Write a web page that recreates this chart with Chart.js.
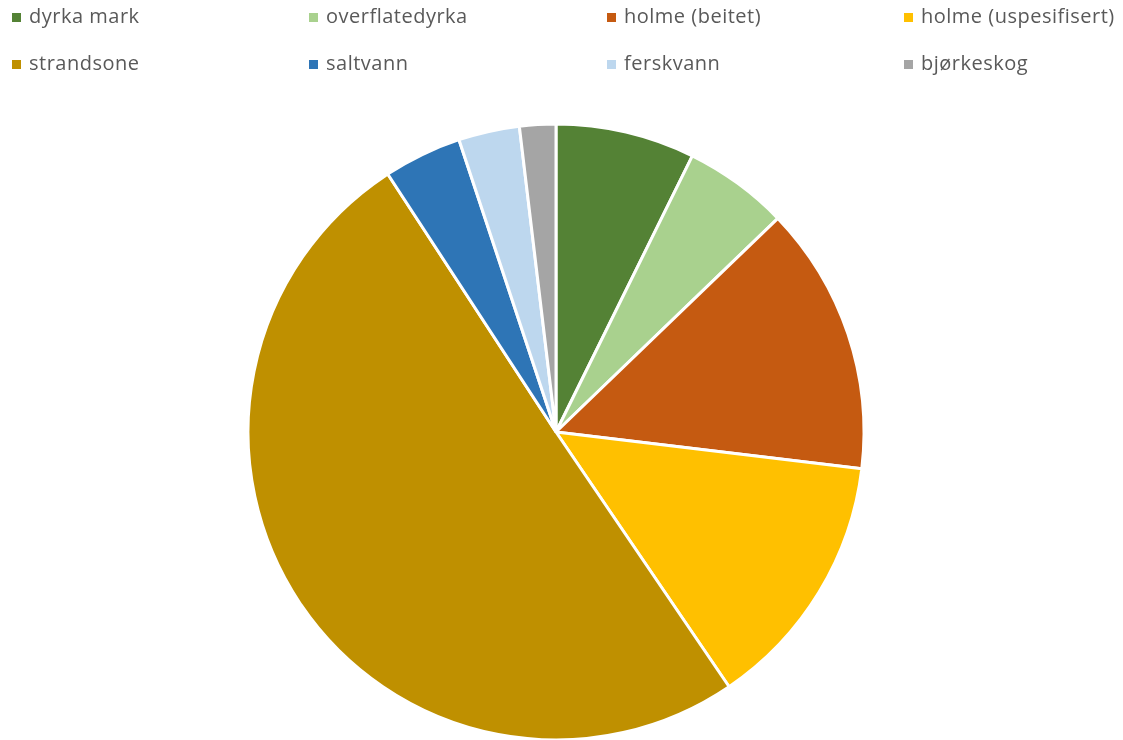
<!DOCTYPE html>
<html>
<head>
<meta charset="utf-8">
<script src="https://cdn.jsdelivr.net/npm/chart.js@4/dist/chart.umd.min.js"></script>
<style>
  body { margin: 0; background: #fff; }
  #wrap { position: relative; width: 1123px; height: 740px; overflow: hidden; }
  #chart { position: absolute; left: 0; top: 0; }
  .leg { position: absolute; font-family: "Open Sans", sans-serif; font-size: 20px; letter-spacing: 0.5px;
         color: #595959; white-space: nowrap; line-height: 24px; }
  .leg span { display: inline-block; width: 9px; height: 9px; margin-right: 8px; vertical-align: 1px; }
</style>
</head>
<body>
<div id="wrap">
  <canvas id="chart" width="1123" height="740"></canvas>
</div>
<script>
const kategorier = ['dyrka mark', 'overflatedyrka', 'holme (beitet)', 'holme (uspesifisert)',
                    'strandsone', 'saltvann', 'ferskvann', 'bjørkeskog'];
const andel = [7.3, 5.5, 14.1, 13.6, 50.3, 4.1, 3.2, 1.9];
const farger = ['#548235', '#A9D18E', '#C55A11', '#FFC000', '#BF9000', '#2E75B6', '#BDD7EE', '#A5A5A5'];

// legend plassering (4 kolonner, 2 rader som i Excel)
const kolX = [12, 309, 607, 904];
const radY = [4, 51];

const wrap = document.getElementById('wrap');
kategorier.forEach((navn, i) => {
    const d = document.createElement('div');
    d.className = 'leg';
    d.style.left = kolX[i % 4] + 'px';
    d.style.top = radY[Math.floor(i / 4)] + 'px';
    const sq = document.createElement('span');
    sq.style.background = farger[i];
    d.appendChild(sq);
    d.appendChild(document.createTextNode(navn));
    wrap.appendChild(d);
});

new Chart(document.getElementById('chart').getContext('2d'), {
    type: 'pie',
    data: {
        labels: kategorier,
        datasets: [{
            data: andel,
            backgroundColor: farger,
            borderColor: '#ffffff',
            borderWidth: 3
        }]
    },
    options: {
        responsive: false,
        animation: false,
        radius: 308,
        layout: { padding: { top: 124, bottom: 0, left: 0, right: 11 } },
        plugins: {
            legend: { display: false },
            tooltip: { enabled: false }
        }
    }
});
</script>
</body>
</html>
